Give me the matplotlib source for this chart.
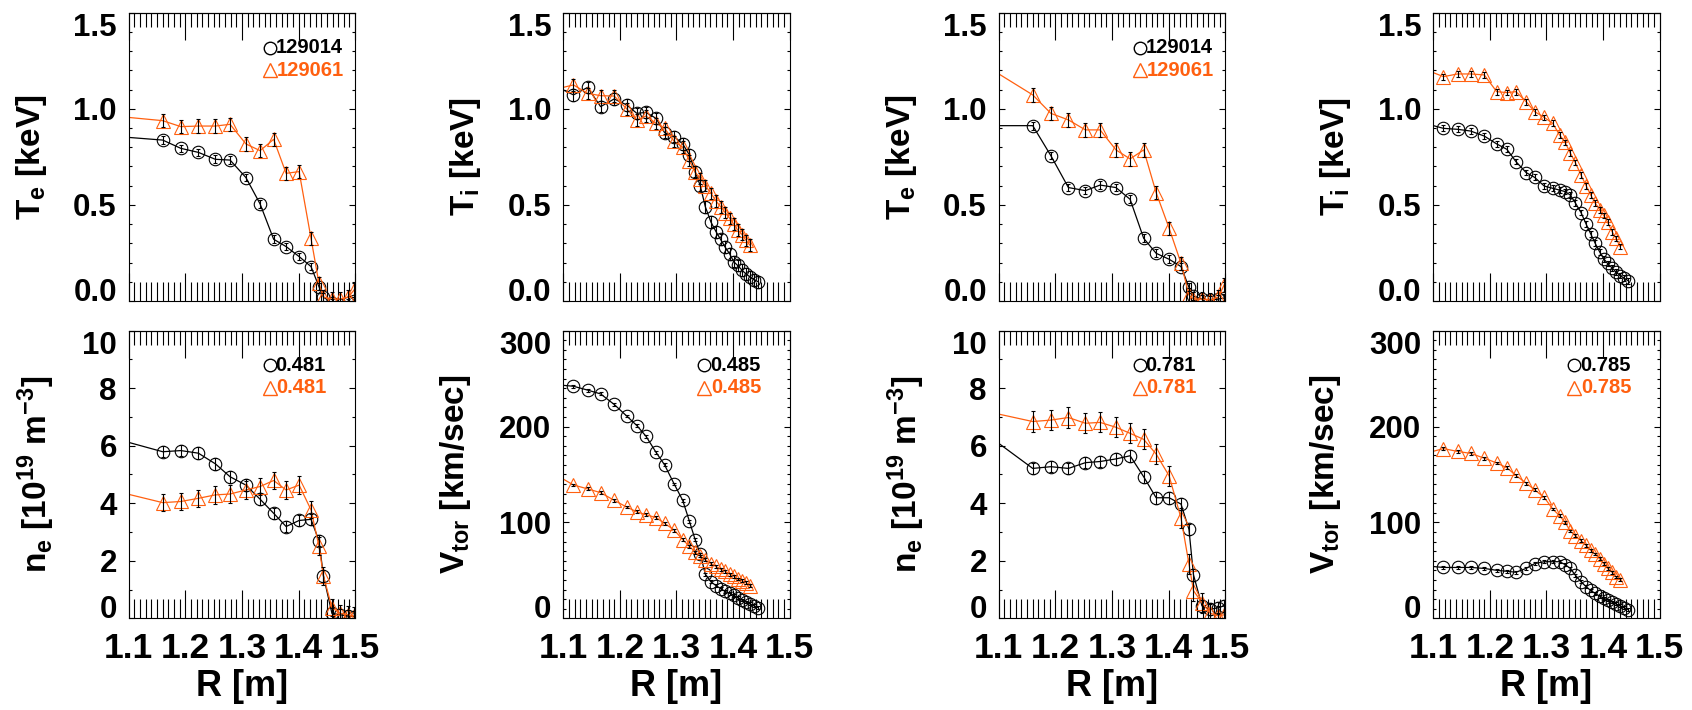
import matplotlib as mpl

mpl.use("Agg")
import matplotlib.pyplot as plt
from matplotlib.ticker import FixedLocator, MultipleLocator

plt.rcParams["font.family"] = ["Liberation Sans", "DejaVu Sans"]
plt.rcParams["font.weight"] = "bold"
plt.rcParams["mathtext.fontset"] = "custom"
plt.rcParams["mathtext.rm"] = "Liberation Sans:bold"
plt.rcParams["mathtext.it"] = "Liberation Sans:bold"
plt.rcParams["mathtext.bf"] = "Liberation Sans:bold"
plt.rcParams["mathtext.default"] = "rm"

ORANGE = "#ff6010"

# Thomson scattering radii [m] (first point sits left of the plotted window)
r_ts = [1.060, 1.160, 1.192, 1.223, 1.253, 1.279, 1.307, 1.332, 1.356, 1.378,
        1.401, 1.422, 1.436, 1.444, 1.459, 1.474, 1.488, 1.498]
# CHERS radii [m]; shot 129061 stops after the 26th channel
r_cx = [1.080, 1.118, 1.143, 1.166, 1.190, 1.212, 1.230, 1.246, 1.264, 1.279,
        1.296, 1.311, 1.323, 1.333, 1.342, 1.351, 1.361, 1.370, 1.378, 1.386,
        1.394, 1.401, 1.408, 1.416, 1.423, 1.430, 1.4375, 1.4445]

# t = 0.481 / 0.485 s
te_481_014 = [0.860, 0.837, 0.794, 0.773, 0.737, 0.733, 0.642, 0.505, 0.321, 0.283,
              0.231, 0.179, 0.075, 0.020, -0.010, -0.020, -0.010, 0.000]
te_481_061 = [0.966, 0.938, 0.907, 0.910, 0.910, 0.919, 0.817, 0.782, 0.841, 0.664,
              0.673, 0.326, 0.092, 0.020, 0.010, 0.010, 0.020, 0.057]
ne_481_014 = [6.33, 5.79, 5.83, 5.74, 5.37, 4.92, 4.63, 4.14, 3.65, 3.19,
              3.40, 3.44, 2.70, 1.47, 0.17, 0.12, 0.08, 0.06]
ne_481_061 = [4.50, 4.02, 4.06, 4.17, 4.29, 4.32, 4.46, 4.58, 4.79, 4.46,
              4.63, 3.77, 2.51, 1.47, 0.37, 0.17, 0.12, 0.08]
ti_485_014 = [1.127, 1.072, 1.111, 1.011, 1.051, 1.020, 0.976, 0.981, 0.950, 0.876,
              0.855, 0.817, 0.759, 0.673, 0.600, 0.490, 0.410, 0.360, 0.320, 0.280,
              0.245, 0.205, 0.185, 0.160, 0.140, 0.125, 0.110, 0.100]
ti_485_061 = [1.097, 1.124, 1.080, 1.068, 1.066, 1.000, 0.942, 0.962, 0.924, 0.898,
              0.830, 0.800, 0.730, 0.670, 0.637, 0.600, 0.560, 0.520, 0.490, 0.460,
              0.430, 0.400, 0.370, 0.345, 0.315, 0.290]
vt_485_014 = [244, 242, 238, 234, 223, 211, 201, 190, 173, 160,
              140, 123, 101, 82, 67, 46, 38, 34, 31, 28,
              26, 24, 21.5, 19, 17, 15, 13, 11]
vt_485_061 = [152, 139, 135, 131, 123, 116, 111, 108, 105, 99,
              92, 82, 75, 69, 65, 61, 57, 54, 51, 49,
              46, 44, 41, 39, 37, 34]

# t = 0.781 / 0.785 s
te_781_014 = [0.912, 0.912, 0.756, 0.590, 0.574, 0.603, 0.590, 0.529, 0.326, 0.248,
              0.217, 0.179, 0.071, 0.025, 0.010, 0.005, 0.010, 0.015]
te_781_061 = [1.254, 1.072, 0.976, 0.942, 0.890, 0.890, 0.786, 0.739, 0.786, 0.564,
              0.378, 0.196, 0.031, 0.010, 0.010, 0.005, 0.020, 0.083]
ne_781_014 = [6.66, 5.21, 5.27, 5.21, 5.41, 5.45, 5.54, 5.65, 4.92, 4.19,
              4.19, 3.97, 3.09, 1.51, 0.43, 0.31, 0.37, 0.43]
ne_781_061 = [7.27, 6.84, 6.89, 6.98, 6.78, 6.81, 6.64, 6.43, 6.22, 5.71,
              4.95, 3.48, 1.89, 0.96, 0.54, 0.17, 0.08, 0.12]
ti_785_014 = [0.928, 0.898, 0.893, 0.884, 0.858, 0.817, 0.789, 0.725, 0.668, 0.643,
              0.598, 0.586, 0.577, 0.569, 0.551, 0.510, 0.460, 0.400, 0.350, 0.300,
              0.255, 0.220, 0.195, 0.172, 0.150, 0.132, 0.118, 0.105]
ti_785_061 = [1.211, 1.167, 1.181, 1.181, 1.176, 1.089, 1.084, 1.089, 1.037, 0.985,
              0.955, 0.924, 0.864, 0.825, 0.770, 0.720, 0.655, 0.600, 0.552, 0.510,
              0.475, 0.445, 0.410, 0.360, 0.325, 0.283]
vt_785_014 = [55, 53, 53, 53, 52, 50, 49, 48, 52, 57,
              59, 59, 59, 56, 52, 45, 38, 33, 29, 26,
              23, 21, 19, 17, 15, 13, 11, 9]
vt_785_061 = [171, 177, 174, 172, 167, 162, 157, 149, 141, 134,
              126, 114, 107, 100, 91, 86, 81, 76, 71, 67,
              62, 57, 52, 48, 43, 40]

# typical one-sigma error bars (black, orange) per panel
err_te_481 = (0.02, 0.035)
err_ne_481 = (0.2, 0.3)
err_ti_485 = (0.03, 0.03)
err_vt_485 = (1.5, 1.5)
err_te_781 = (0.02, 0.035)
err_ne_781 = (0.2, 0.35)
err_ti_785 = (0.015, 0.015)
err_vt_785 = (1.5, 1.5)

legend_top = ["129014", "129061"]
legend_481 = ["0.481", "0.481"]
legend_485 = ["0.485", "0.485"]
legend_781 = ["0.781", "0.781"]
legend_785 = ["0.785", "0.785"]

r_ticks = [1.1, 1.2, 1.3, 1.4, 1.5]

YAX = {
    "te": dict(lim=(0, 1.5), major=[0.0, 0.5, 1.0, 1.5], minor=0.1, fmt="{:.1f}",
               label="$T_e$ [keV]", lx=-0.352),
    "ti": dict(lim=(0, 1.5), major=[0.0, 0.5, 1.0, 1.5], minor=0.1, fmt="{:.1f}",
               label="$T_i$ [keV]", lx=-0.355),
    "ne": dict(lim=(0, 10), major=[0, 2, 4, 6, 8, 10], minor=1, fmt="{:d}",
               label="$n_e$ [10$^{19}$ m$^{-3}$]", lx=-0.315),
    "vt": dict(lim=(0, 300), major=[0, 100, 200, 300], minor=10, fmt="{:d}",
               label="$V_{tor}$ [km/sec]", lx=-0.40),
}


def draw_panel(ax, kind, r, y_blk, y_org, err, legend, bottom_row):
    cfg = YAX[kind]
    rb = r[:len(y_blk)]
    ro = r[:len(y_org)]
    ax.plot(rb, y_blk, "-", color="black", lw=0.9, marker="o", ms=9.0,
            mfc="none", mec="black", mew=0.8, zorder=2)
    ax.plot(ro, y_org, "-", color=ORANGE, lw=0.9, marker="^", ms=10.0,
            mfc="none", mec=ORANGE, mew=0.8, zorder=2)
    ax.errorbar(rb, y_blk, yerr=err[0], fmt="none", ecolor="black",
                elinewidth=0.8, capsize=1.3, capthick=0.8, zorder=4)
    ax.errorbar(ro, y_org, yerr=err[1], fmt="none", ecolor="black",
                elinewidth=0.8, capsize=1.3, capthick=0.8, zorder=4)

    ax.set_xlim(1.1, 1.5)
    ax.set_ylim(*cfg["lim"])
    ax.xaxis.set_major_locator(FixedLocator(r_ticks))
    ax.xaxis.set_minor_locator(MultipleLocator(0.01))
    ax.yaxis.set_major_locator(FixedLocator(cfg["major"]))
    ax.yaxis.set_minor_locator(MultipleLocator(cfg["minor"]))
    ax.set_yticklabels([cfg["fmt"].format(v) for v in cfg["major"]])
    ax.tick_params(axis="x", which="major", direction="in", length=20.5, width=0.8,
                   top=False, labelbottom=bottom_row, labelsize=25.5, pad=10)
    ax.tick_params(axis="x", which="minor", direction="in", length=13.5, width=0.8, top=False)
    ax.tick_params(axis="y", which="major", direction="in", length=4.3, width=0.8,
                   left=True, right=True, labelsize=22.5, pad=8.6)
    ax.tick_params(axis="y", which="minor", direction="in", length=2.4, width=0.8,
                   left=True, right=True)
    if bottom_row:
        ax.set_xticklabels([f"{v:.1f}" for v in r_ticks])
    yt = ax.yaxis.get_major_ticks()
    yt[0].label1.set_va("baseline")
    yt[-1].label1.set_va("top")

    top = ax.secondary_xaxis("top")
    top.xaxis.set_major_locator(FixedLocator(r_ticks))
    top.xaxis.set_minor_locator(MultipleLocator(0.01))
    top.tick_params(which="major", direction="in", length=19.4, width=0.8, labeltop=False)
    top.tick_params(which="minor", direction="in", length=10, width=0.8)
    top.spines["top"].set_linewidth(0.8)

    for sp in ax.spines.values():
        sp.set_linewidth(0.8)

    ax.set_ylabel(cfg["label"], fontsize=24, fontweight="bold")
    ax.yaxis.set_label_coords(cfg["lx"], 0.5)
    if bottom_row:
        ax.set_xlabel("R [m]", fontsize=26, fontweight="bold")
        ax.xaxis.set_label_coords(0.5, -0.175)

    if legend is not None:
        ax.plot([0.622], [0.879], "o", ms=9.0, mfc="none", mec="black", mew=1.0,
                transform=ax.transAxes, clip_on=False)
        ax.plot([0.622], [0.800], "^", ms=10.0, mfc="none", mec=ORANGE, mew=1.0,
                transform=ax.transAxes, clip_on=False)
        ax.text(0.648, 0.879, legend[0], transform=ax.transAxes, ha="left",
                va="center", fontsize=14.5, color="black", fontweight="bold")
        ax.text(0.652, 0.801, legend[1], transform=ax.transAxes, ha="left",
                va="center", fontsize=14.5, color=ORANGE, fontweight="bold")


fig = plt.figure(figsize=(16.92, 7.10), dpi=100)
lefts = [0.0761, 0.3329, 0.5903, 0.8471]
width = 0.1338
rows = [(0.5761, 0.4061), (0.1292, 0.4051)]

panels = [
    (0, 0, "te", r_ts, te_481_014, te_481_061, err_te_481, legend_top),
    (0, 1, "ti", r_cx, ti_485_014, ti_485_061, err_ti_485, None),
    (0, 2, "te", r_ts, te_781_014, te_781_061, err_te_781, legend_top),
    (0, 3, "ti", r_cx, ti_785_014, ti_785_061, err_ti_785, None),
    (1, 0, "ne", r_ts, ne_481_014, ne_481_061, err_ne_481, legend_481),
    (1, 1, "vt", r_cx, vt_485_014, vt_485_061, err_vt_485, legend_485),
    (1, 2, "ne", r_ts, ne_781_014, ne_781_061, err_ne_781, legend_781),
    (1, 3, "vt", r_cx, vt_785_014, vt_785_061, err_vt_785, legend_785),
]

for row, col, kind, r, yb, yo, err, leg in panels:
    bottom, height = rows[row]
    ax = fig.add_axes([lefts[col], bottom, width, height])
    draw_panel(ax, kind, r, yb, yo, err, leg, bottom_row=(row == 1))

fig.savefig("out.png", dpi=100)
